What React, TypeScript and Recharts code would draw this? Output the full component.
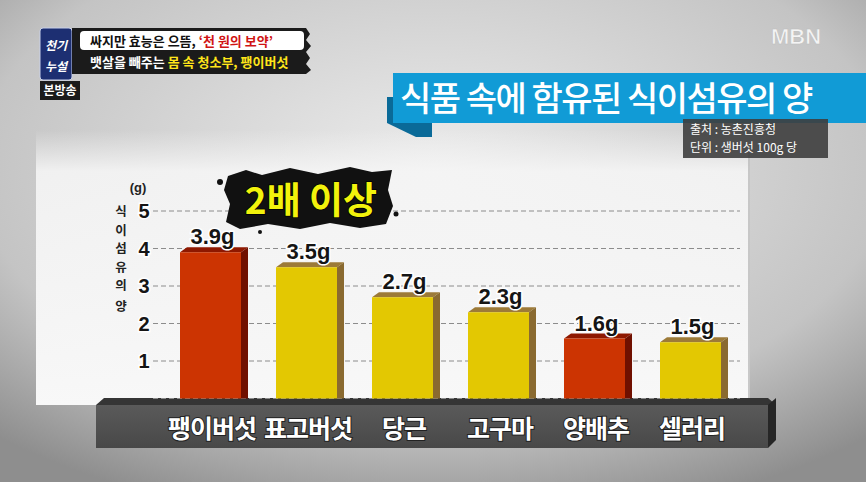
import React from 'react'
import { BarChart, Bar, XAxis, YAxis, CartesianGrid, LabelList } from 'recharts'

// 식품 100g 당 식이섬유 (g)
const foods = ['팽이버섯', '표고버섯', '당근', '고구마', '양배추', '셀러리']
const fiber = [3.9, 3.5, 2.7, 2.3, 1.6, 1.5]
const highlighted = ['팽이버섯', '양배추']
const yTicks = [1, 2, 3, 4, 5]

const W = 866
const H = 482
const KR = '"Noto Sans CJK KR", "Noto Sans", sans-serif'
const NUM = '"Liberation Sans", Arial, sans-serif'

const chartData = foods.map((name, i) => ({ name, value: fiber[i] }))

function Bar3D(props: any) {
  const { x, y, width, height, payload } = props
  const hot = highlighted.includes(payload.name)
  const front = hot ? '#cc3402' : '#e3c802'
  const side = hot ? '#701000' : '#8a6a30'
  const top = hot ? '#8e1800' : '#9c7a38'
  const dx = 7
  const dy = 5
  return (
    <g>
      <polygon
        points={`${x},${y} ${x + dx},${y - dy} ${x + width + dx},${y - dy} ${x + width},${y}`}
        fill={top}
      />
      <polygon
        points={`${x + width},${y} ${x + width + dx},${y - dy} ${x + width + dx},${y + height} ${x + width},${y + height}`}
        fill={side}
      />
      <rect x={x} y={y} width={width} height={height} fill={front} />
    </g>
  )
}

function ValueLabel(props: any) {
  const { x, y, width, value } = props
  return (
    <text
      x={x + width / 2 + 2}
      y={y - 8}
      textAnchor="middle"
      fontFamily={NUM}
      fontWeight="bold"
      fontSize={22}
      fill="#151515"
      stroke="#ffffff"
      strokeWidth={3}
      paintOrder="stroke"
    >
      {Number(value).toFixed(1)}g
    </text>
  )
}

function FoodTick(props: any) {
  const { x, y, payload } = props
  return (
    <text
      x={x + 2}
      y={y + 31}
      textAnchor="middle"
      fontFamily={KR}
      fontWeight="bold"
      fontSize={25}
      fill="#ffffff"
      stroke="#222"
      strokeWidth={2}
      paintOrder="stroke"
      letterSpacing={-1}
    >
      {payload.value}
    </text>
  )
}

function GramTick(props: any) {
  const { x, y, payload } = props
  return (
    <text
      x={x - 1}
      y={y + 7}
      textAnchor="middle"
      fontFamily={NUM}
      fontWeight="bold"
      fontSize={20}
      fill="#151515"
      stroke="#ffffff"
      strokeWidth={3}
      paintOrder="stroke"
    >
      {payload.value}
    </text>
  )
}

function Backdrop() {
  return (
    <svg width={W} height={H} style={{ position: 'absolute', left: 0, top: 0 }}>
      <defs>
        <radialGradient id="bg" cx="0.5" cy="0.35" r="0.75">
          <stop offset="0" stopColor="#ececec" />
          <stop offset="0.7" stopColor="#c4c4c4" />
          <stop offset="1" stopColor="#8e8e8e" />
        </radialGradient>
        <linearGradient id="panel" x1="0" y1="0" x2="0" y2="1">
          <stop offset="0" stopColor="#f2f2f2" stopOpacity="0" />
          <stop offset="0.15" stopColor="#f5f5f5" stopOpacity="0.9" />
          <stop offset="1" stopColor="#f8f8f8" stopOpacity="1" />
        </linearGradient>
        <linearGradient id="slab" x1="0" y1="0" x2="0" y2="1">
          <stop offset="0" stopColor="#5a5a5a" />
          <stop offset="1" stopColor="#484848" />
        </linearGradient>
      </defs>
      <rect x={0} y={0} width={W} height={H} fill="url(#bg)" />
      <rect x={36} y={130} width={714} height={275} fill="url(#panel)" />
      <line x1={749} y1={150} x2={749} y2={400} stroke="#b8b8b8" strokeWidth={1.5} />
      {/* base slab */}
      <polygon points="104,398 768,398 776,405 96,405" fill="#353535" />
      <rect x={96} y={405} width={672} height={43} fill="url(#slab)" />
      <polygon points="768,405 776,398 776,440 768,448" fill="#262626" />
    </svg>
  )
}

const axisWords = ['식', '이', '섬', '유', '의']

function Overlay() {
  return (
    <svg width={W} height={H} style={{ position: 'absolute', left: 0, top: 0, pointerEvents: 'none' }}>
      {/* programme logo */}
      <rect x={40} y={28} width={32} height={52} rx={3} fill="#1d2f72" stroke="#c8d0e8" strokeWidth={1} />
      <text x={56} y={50} textAnchor="middle" fontFamily={KR} fontWeight="bold" fontSize={12} fill="#fff" fontStyle="italic">
        천기
      </text>
      <text x={56} y={71} textAnchor="middle" fontFamily={KR} fontWeight="bold" fontSize={12} fill="#fff" fontStyle="italic">
        누설
      </text>
      <polygon
        points="72,28 306,28 310,34 306,40 311,46 306,52 310,58 306,64 311,70 306,74 72,74"
        fill="#1b1b1b"
      />
      <rect x={80} y={31} width={224} height={19} rx={4} fill="#ffffff" />
      <text x={90} y={46} fontFamily={KR} fontWeight="bold" fontSize={13} fill="#111">
        싸지만 효능은 으뜸, <tspan fill="#d01414">‘천 원의 보약’</tspan>
      </text>
      <text x={90} y={67} fontFamily={KR} fontWeight="bold" fontSize={13} fill="#fff">
        뱃살을 빼주는 <tspan fill="#ffe51a">몸 속 청소부, 팽이버섯</tspan>
      </text>
      <rect x={40} y={81} width={40} height={19} fill="#1b1b1b" />
      <text x={60} y={95} textAnchor="middle" fontFamily={KR} fontWeight="bold" fontSize={12} fill="#fff">
        본방송
      </text>
      <text x={796} y={44} textAnchor="middle" fontFamily={NUM} fontWeight="bold" fontSize={22} fill="#f4f4f4" stroke="#bdbdbd" strokeWidth={0.6}>
        MBN
      </text>

      {/* title ribbon */}
      <polygon points="387,97 432,97 432,137 416,137 387,123" fill="#0a6a98" />
      <rect x={393} y={73} width={473} height={50} fill="#119bd6" />
      <text x={400} y={111} fontFamily={KR} fontWeight="500" fontSize={34} fill="#fff" letterSpacing={-1.5}>
        식품 속에 함유된 식이섬유의 양
      </text>
      <rect x={683} y={119} width={145} height={39} fill="#3e3e3e" fillOpacity={0.9} />
      <text x={690} y={134} fontFamily={KR} fontSize={12} fill="#fff">
        출처 : 농촌진흥청
      </text>
      <text x={690} y={152} fontFamily={KR} fontSize={12} fill="#fff">
        단위 : 생버섯 100g 당
      </text>

      {/* axis title */}
      <text x={138} y={192} textAnchor="middle" fontFamily={NUM} fontWeight="bold" fontSize={13} fill="#222">
        (g)
      </text>
      {axisWords.map((c, i) => (
        <text key={i} x={121} y={216 + i * 18.5} textAnchor="middle" fontFamily={KR} fontWeight="bold" fontSize={12.5} fill="#222">
          {c}
        </text>
      ))}
      <text x={121} y={311} textAnchor="middle" fontFamily={KR} fontWeight="bold" fontSize={12.5} fill="#222">
        양
      </text>

      {/* callout */}
      <polygon
        points="228,176 246,170 262,175 290,168 318,174 350,167 372,172 392,170 388,190 393,206 386,224 360,228 330,223 300,229 268,224 240,229 226,222 230,204 224,190"
        fill="#111"
      />
      <circle cx={220} cy={182} r={3} fill="#111" />
      <circle cx={396} cy={214} r={2.5} fill="#111" />
      <circle cx={260} cy={232} r={2} fill="#111" />
      <text x={311} y={214} textAnchor="middle" fontFamily={KR} fontWeight="bold" fontSize={37} fill="#f2f20c" stroke="#000" strokeWidth={1.5} paintOrder="stroke">
        2배 이상
      </text>
    </svg>
  )
}

export default function App() {
  return (
    <div style={{ position: 'absolute', left: 0, top: 0, width: W, height: H, overflow: 'hidden' }}>
      <Backdrop />
      <div style={{ position: 'absolute', left: 0, top: 0 }}>
        <BarChart
          width={W}
          height={H}
          data={chartData}
          margin={{ top: 211, right: 126, bottom: 53.5, left: 113 }}
          barSize={61}
        >
          <CartesianGrid vertical={false} stroke="#8c8c8c" strokeDasharray="5 3" />
          <XAxis
            dataKey="name"
            height={30}
            axisLine={false}
            tickLine={false}
            tick={<FoodTick />}
            padding={{ left: 9, right: 2 }}
            interval={0}
          />
          <YAxis
            width={40}
            domain={[0, 5]}
            ticks={yTicks}
            axisLine={false}
            tickLine={false}
            tick={<GramTick />}
          />
          <Bar dataKey="value" shape={<Bar3D />} isAnimationActive={false}>
            <LabelList dataKey="value" content={<ValueLabel />} />
          </Bar>
        </BarChart>
      </div>
      <Overlay />
    </div>
  )
}
